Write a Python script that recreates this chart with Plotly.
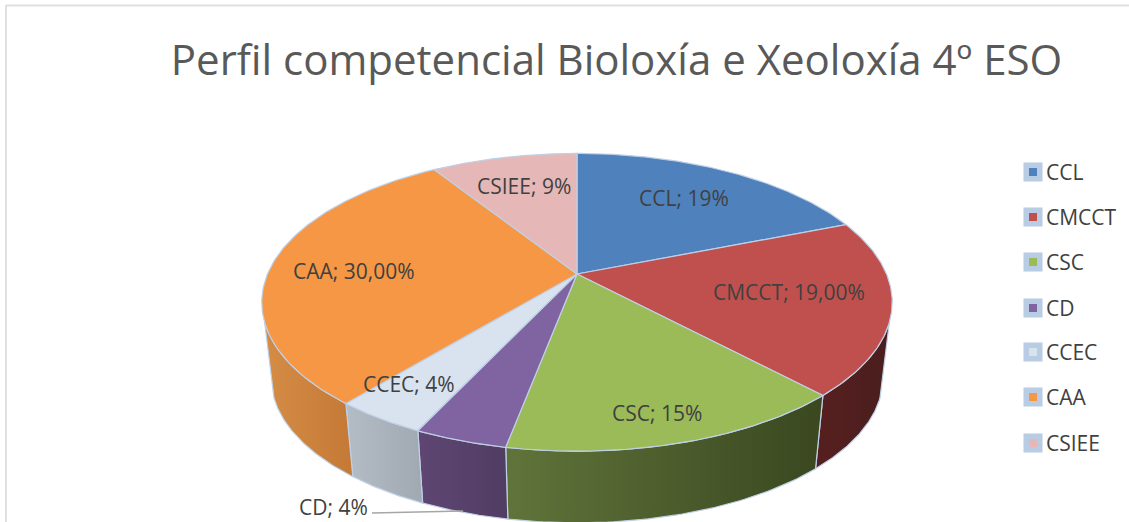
import numpy as np
import plotly.graph_objects as go

# --- data ---
categories = ["CCL", "CMCCT", "CSC", "CD", "CCEC", "CAA", "CSIEE"]
values = [19, 19, 15, 4, 4, 30, 9]
value_texts = ["19%", "19,00%", "15%", "4%", "4%", "30,00%", "9%"]
title_text = "Perfil competencial Bioloxía e Xeoloxía 4º ESO"

# --- style ---
top_colors = ["#4f81bd", "#c0504d", "#9bbb59", "#8064a2", "#d9e3f0", "#f59744", "#e5b8b7"]
side_colors = [
    ("#2f4d71", "#2f4d71"),
    ("#571f1f", "#4a1e1e"),
    ("#60743a", "#3a4720"),
    ("#5f4673", "#503d62"),
    ("#b4bcc5", "#a0a8b2"),
    ("#d58c45", "#c47a36"),
    ("#e5b8b7", "#e5b8b7"),
]
edge = "#bfd0e6"
text_color = "#404040"
label_pos = [(684, 198), (789, 292), (657, 413), (333, 507), (409, 384), (354, 271), (524, 186)]
legend_y = [172, 217, 262, 308, 352, 397, 443]

# --- projection of the tilted disc ---
cx, cy = 577, 274
k, B, A = 0.19, 143.5, 309.5
scale_low, drop = 0.97, 77
side_from, side_to = 108.5, 251.5


def project(deg, s=1.0, dy=0.0):
    t = np.radians(deg)
    u, v = np.sin(t), np.cos(t)
    w = 1 + k * v
    return cx + s * A * u / w, cy + dy - s * B * v / w


fig = go.Figure()
cum = np.cumsum([0] + values) / sum(values) * 360

# sides
for i in range(len(values)):
    a0, a1 = max(cum[i], side_from), min(cum[i + 1], side_to)
    if a1 <= a0:
        continue
    d = np.linspace(a0, a1, 60)
    xt, yt = project(d)
    xb, yb = project(d, scale_low, drop)
    fig.add_trace(go.Scatter(
        x=np.r_[xt, xb[::-1], xt[0]], y=np.r_[yt, yb[::-1], yt[0]],
        mode="lines", fill="toself",
        line=dict(color=edge, width=1.2),
        fillgradient=dict(type="horizontal",
                          colorscale=[[0, side_colors[i][0]], [1, side_colors[i][1]]]),
        hoverinfo="skip", showlegend=False))

# top faces
for i in range(len(values)):
    d = np.linspace(cum[i], cum[i + 1], 120)
    xt, yt = project(d)
    fig.add_trace(go.Scatter(
        x=np.r_[cx, xt, cx], y=np.r_[cy, yt, cy],
        mode="lines", fill="toself", fillcolor=top_colors[i],
        line=dict(color=edge, width=1.2),
        hoverinfo="skip", showlegend=False))

# legend keys and names
for i, c in enumerate(categories):
    fig.add_trace(go.Scatter(
        x=[1033], y=[legend_y[i]], mode="markers", name=c,
        marker=dict(symbol="square", size=13.5, color=top_colors[i],
                    line=dict(color="#b8cce4", width=5.5)),
        hoverinfo="name", showlegend=False))
    fig.add_annotation(x=1044, y=legend_y[i], text=c, showarrow=False, xanchor="left", yanchor="middle",
                       font=dict(family="Open Sans", size=21, color=text_color))

# data labels
for i, c in enumerate(categories):
    fig.add_annotation(x=label_pos[i][0], y=label_pos[i][1], text=f"{c}; {value_texts[i]}",
                       showarrow=False, font=dict(family="Open Sans", size=21, color=text_color),
                       xanchor="center", yanchor="middle")

# leader line of the CD label
fig.add_shape(type="line", x0=372, y0=513, x1=463, y1=511, line=dict(color="#a6a6a6", width=1.5))
# chart frame
fig.add_shape(type="line", x0=6, y0=5.5, x1=1129, y1=5.5, line=dict(color="#e0e0e0", width=2))
fig.add_shape(type="line", x0=6, y0=5, x1=6, y1=522, line=dict(color="#e0e0e0", width=2))

fig.update_layout(
    width=1129, height=522, margin=dict(l=0, r=0, t=0, b=0, autoexpand=False),
    paper_bgcolor="white", plot_bgcolor="white",
    xaxis=dict(range=[0, 1129], visible=False, fixedrange=True),
    yaxis=dict(range=[522, 0], visible=False, fixedrange=True),
    title=dict(text=title_text, x=616.5 / 1129, xanchor="center", y=1 - 60 / 522, yanchor="middle",
               font=dict(family="Open Sans", size=42, color="#595959")),
    showlegend=False,
)
fig.write_html("out.html", config={"displayModeBar": False},
               post_script="document.body.style.margin='0';document.body.style.overflow='hidden';")
